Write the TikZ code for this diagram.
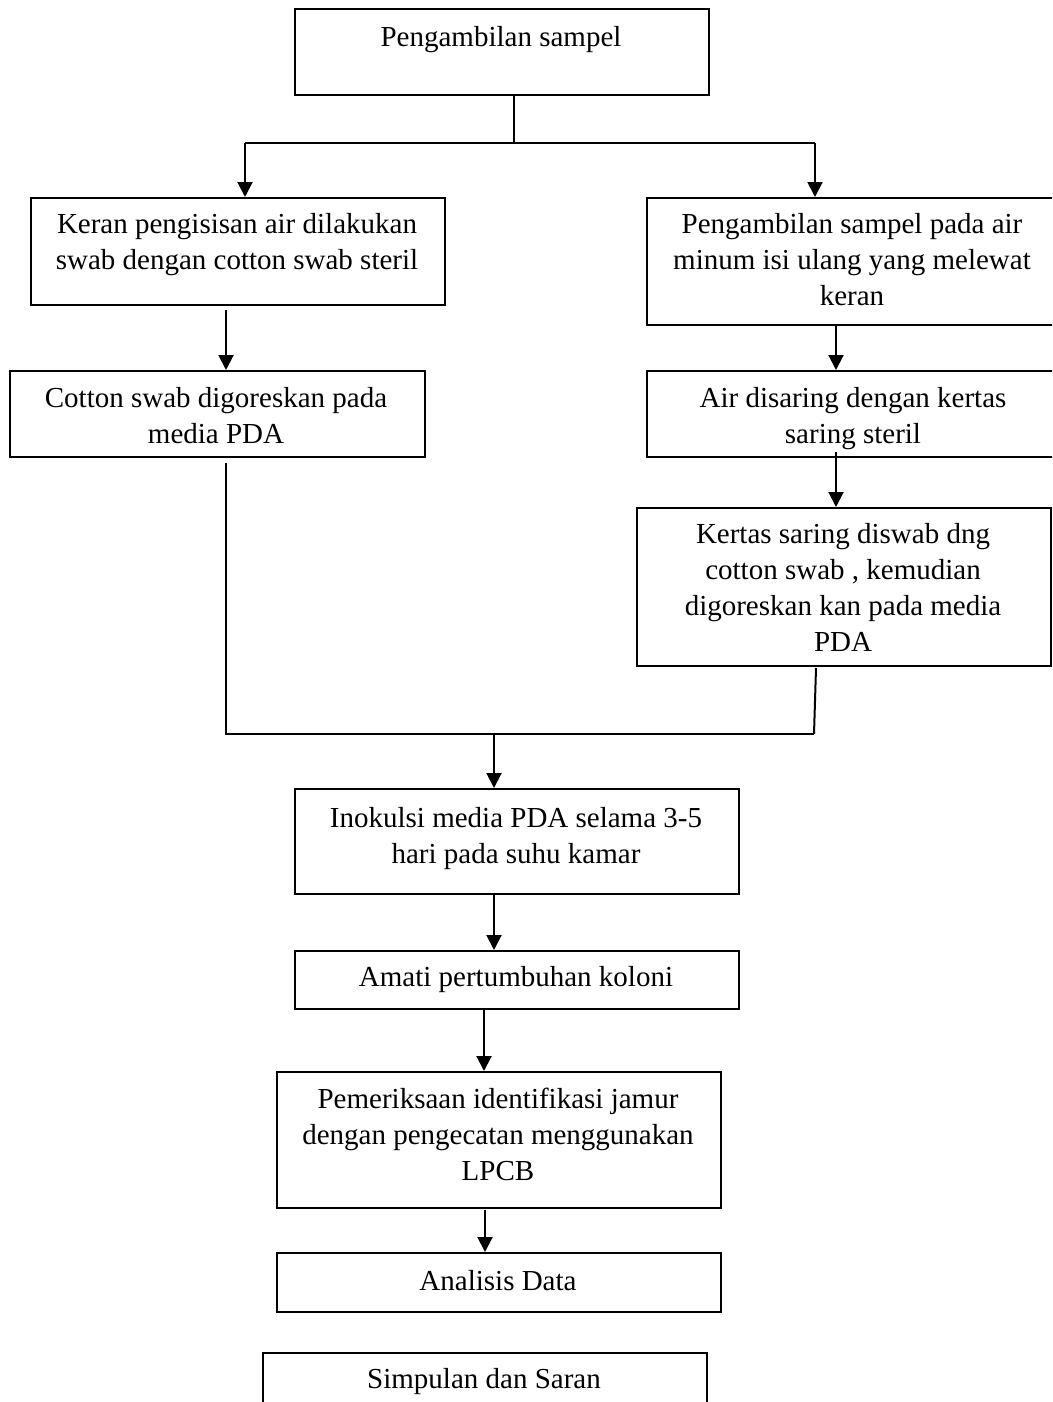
\documentclass[tikz,border=0pt]{standalone}
\usepackage{fontspec}
\setmainfont{Liberation Serif}
\usetikzlibrary{arrows.meta}
\begin{document}
\begin{tikzpicture}[x=1pt,y=-1pt,
  box/.style={draw, line width=2pt, rectangle, inner sep=0pt, anchor=north west},
  txt/.style={inner sep=0pt, anchor=north, align=center, font=\fontsize{29}{36}\selectfont},
  conn/.style={line width=2pt},
  arr/.style={line width=2pt, -{Triangle[length=15pt,width=15pt]}}]
\useasboundingbox (0,0) rectangle (1052,1402);
\clip (0,0) rectangle (1052,1402);
% boxes
\node[box, minimum width=414pt, minimum height=86pt] (b1) at (294,8) {};
\node[box, minimum width=414pt, minimum height=107pt] (b2) at (30,197) {};
\node[box, minimum width=414pt, minimum height=127pt] (b3) at (646,197) {};
\node[box, minimum width=414pt, minimum height=86pt] (b4) at (646,370) {};
\node[box, minimum width=414pt, minimum height=158pt] (b5) at (636,507) {};
\node[box, minimum width=415pt, minimum height=86pt] (b6) at (9,370) {};
\node[box, minimum width=444pt, minimum height=105pt] (b7) at (294,788) {};
\node[box, minimum width=444pt, minimum height=58pt] (b8) at (294,950) {};
\node[box, minimum width=444pt, minimum height=136pt] (b9) at (276,1071) {};
\node[box, minimum width=444pt, minimum height=59pt] (b10) at (276,1252) {};
\node[box, minimum width=444pt, minimum height=70pt] (b11) at (262,1352) {};
% texts
\node[txt] (t1) at (501,20.8) {\strut Pengambilan sampel};
\node[txt] (t2) at (237,207.8) {\strut Keran pengisisan air dilakukan\\swab dengan cotton swab steril};
\node[txt] (t3) at (852,207.8) {\strut Pengambilan sampel pada air\\minum isi ulang yang melewat\\keran};
\node[txt] (t6) at (216,381.8) {\strut Cotton swab digoreskan pada\\media PDA};
\node[txt] (t4) at (853,381.8) {\strut Air disaring dengan kertas\\saring steril};
\node[txt] (t5) at (843,517.8) {\strut Kertas saring diswab dng\\cotton swab , kemudian\\digoreskan kan pada media\\PDA};
\node[txt] (t7) at (516,801.8) {\strut Inokulsi media PDA selama 3-5\\hari pada suhu kamar};
\node[txt] (t8) at (516,960.8) {\strut Amati pertumbuhan koloni};
\node[txt] (t9) at (498,1082.8) {\strut Pemeriksaan identifikasi jamur\\dengan pengecatan menggunakan\\LPCB};
\node[txt] (t10) at (498,1264.8) {\strut Analisis Data};
\node[txt] (t11) at (484,1362.8) {\strut Simpulan dan Saran};
% junction coordinates
\coordinate (j1) at (514,143);
\coordinate (jL) at (245,143);
\coordinate (jR) at (815,143);
\coordinate (a26) at (226,310);
\coordinate (a34) at (836,324);
\coordinate (a45) at (836,452);
\coordinate (l6) at (226,463);
\coordinate (m6) at (226,734);
\coordinate (l5) at (816,668);
\coordinate (m5) at (814,734);
\coordinate (j7) at (494,734);
\coordinate (a89) at (484,1008);
\coordinate (a910) at (485,1210);
% connectors
\draw[conn] (b1.south -| j1) -- (j1);
\draw[conn] (jL) -- (jR);
\draw[arr] (jL) -- (jL |- b2.north);
\draw[arr] (jR) -- (jR |- b3.north);
\draw[arr] (a26) -- (a26 |- b6.north);
\draw[arr] (a34) -- (a34 |- b4.north);
\draw[arr] (a45) -- (a45 |- b5.north);
\draw[conn] (l6) -- (m6) -- (m5);
\draw[conn] (l5) -- (m5);
\draw[arr] (j7) -- (j7 |- b7.north);
\draw[arr] (b7.south -| j7) -- (j7 |- b8.north);
\draw[arr] (a89) -- (a89 |- b9.north);
\draw[arr] (a910) -- (a910 |- b10.north);
\end{tikzpicture}
\end{document}
